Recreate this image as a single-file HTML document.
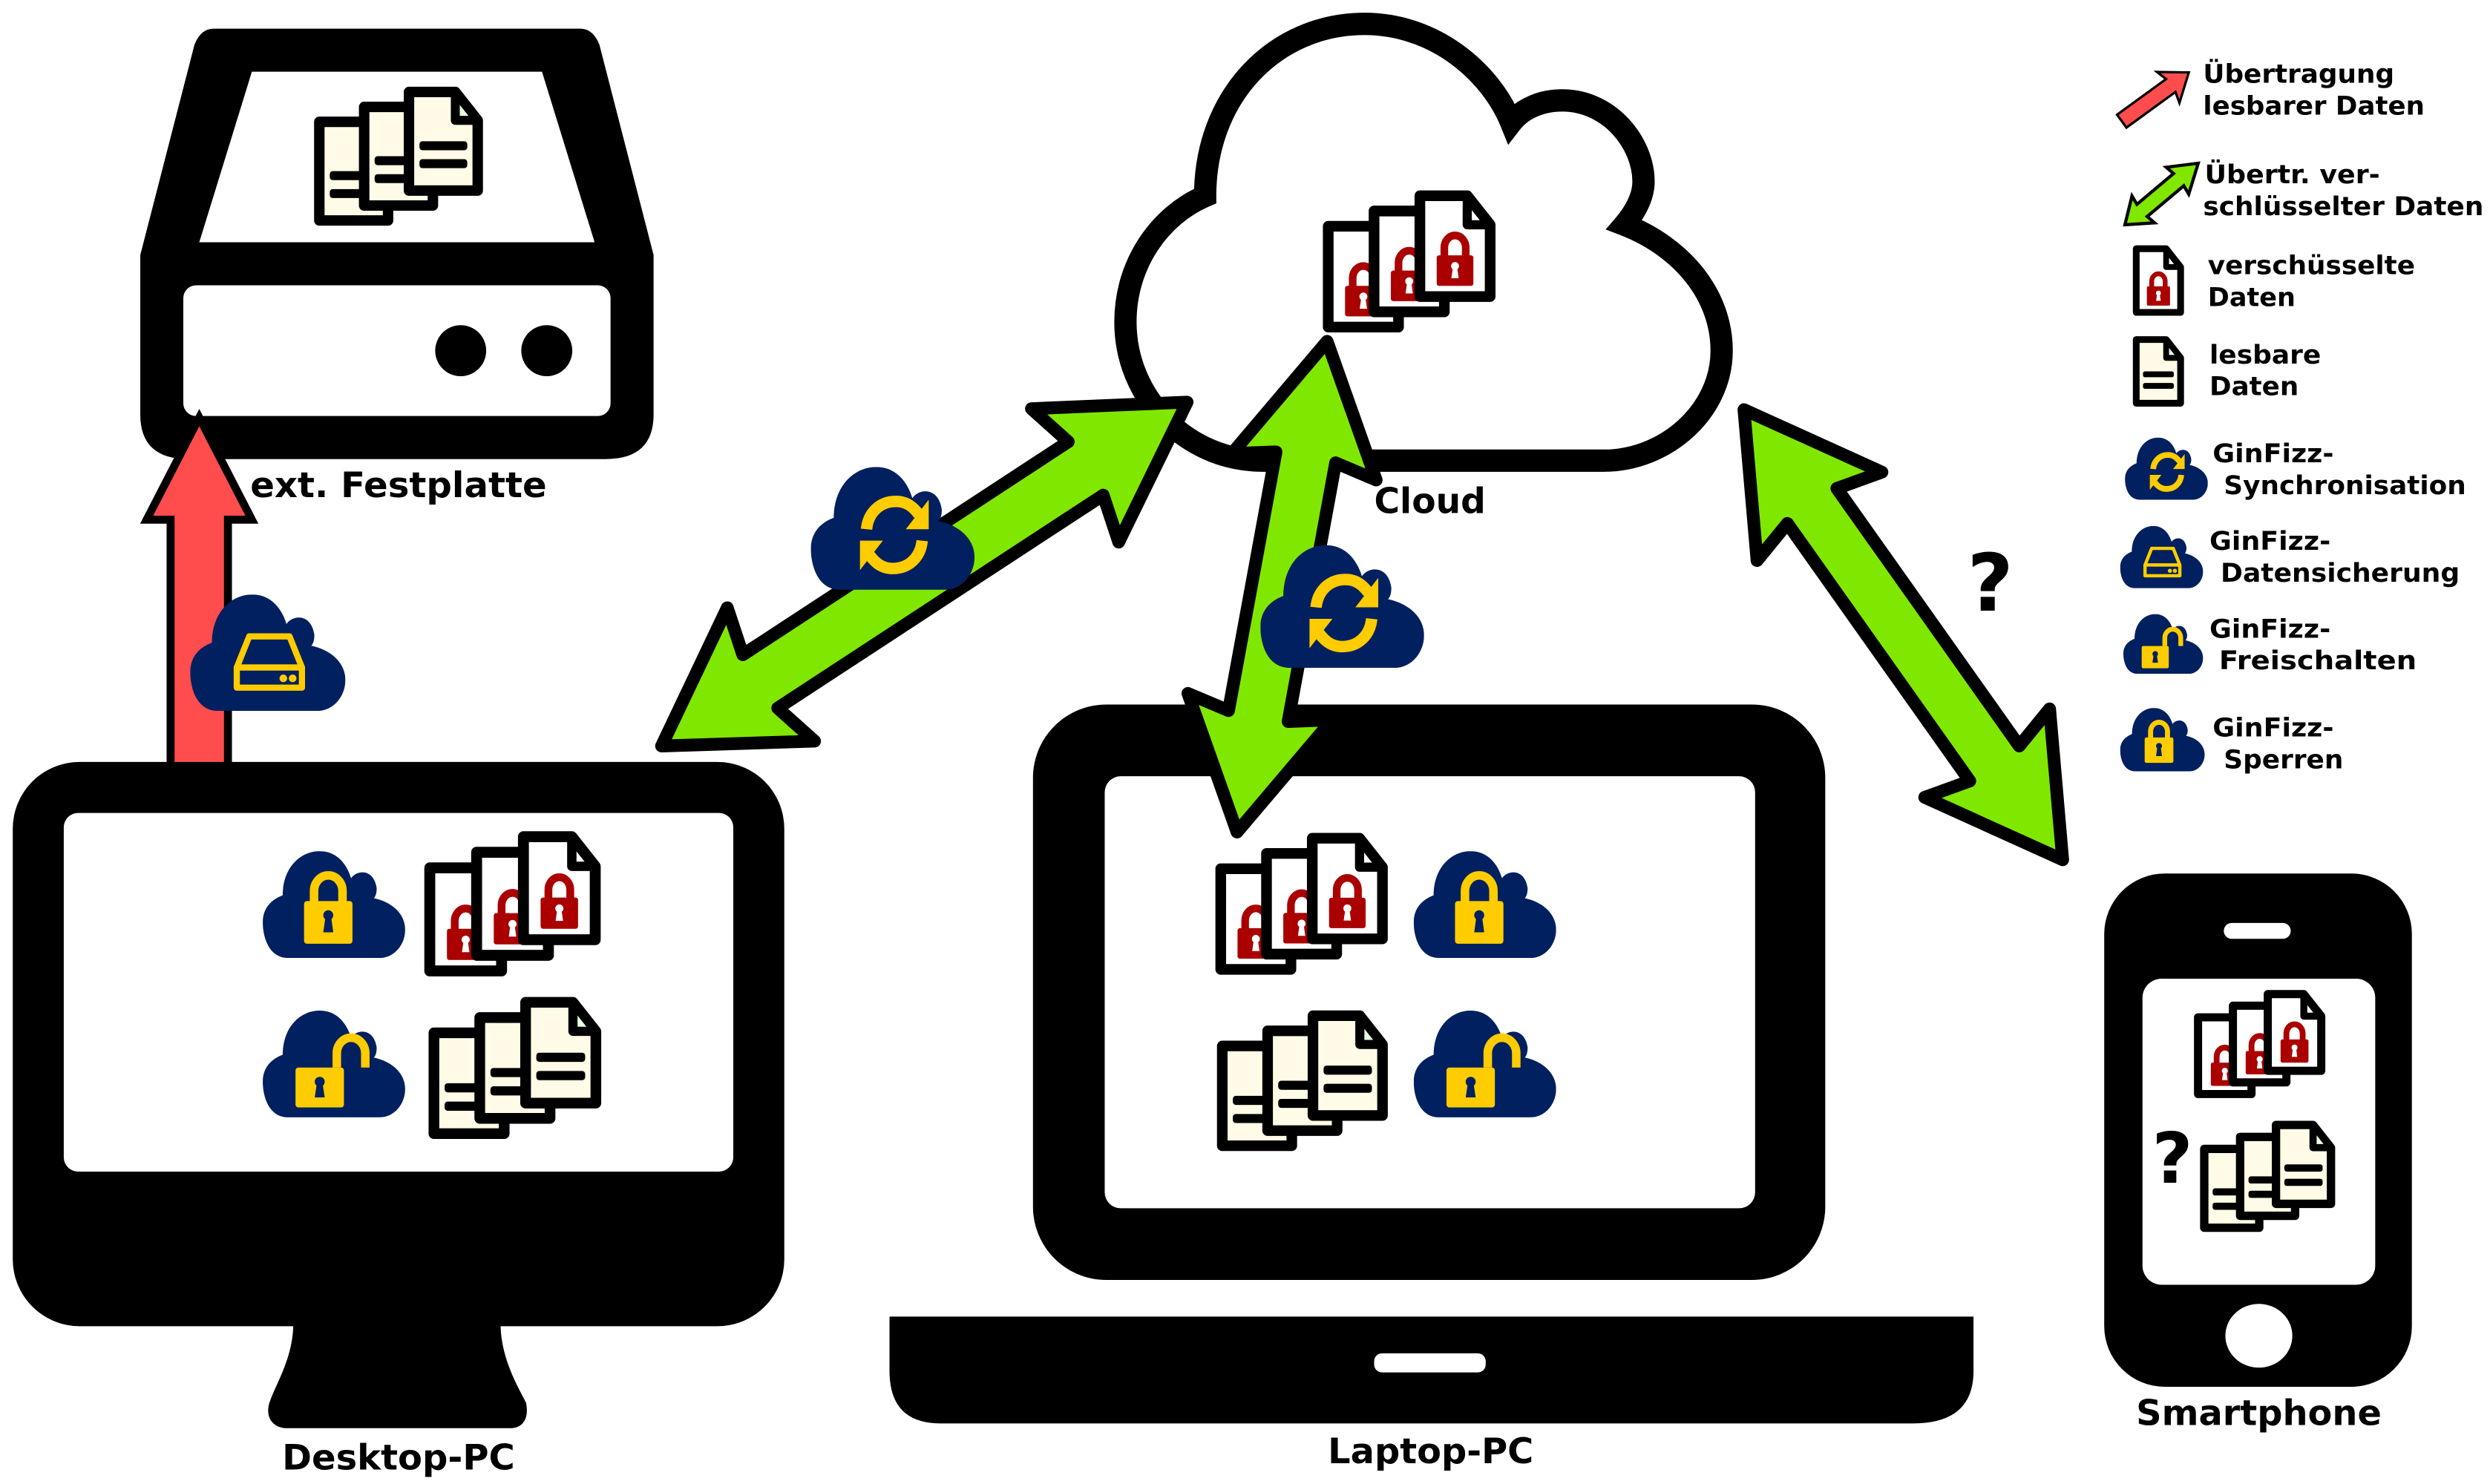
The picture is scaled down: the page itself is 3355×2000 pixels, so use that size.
<!DOCTYPE html>
<html><head><meta charset="utf-8"><style>
html,body{margin:0;padding:0;background:#fff;}
svg{display:block;}
text{font-family:"DejaVu Sans","Liberation Sans",sans-serif;font-weight:bold;fill:#000;}
</style></head><body>
<svg width="3355" height="2000" viewBox="0 0 1562 931" preserveAspectRatio="none" xmlns="http://www.w3.org/2000/svg">
<defs>
  <symbol id="cl" viewBox="0 0 100 75">
    <path d="M18,75 C3,75 0,58 0,50 C0,40 6,34 14,31 C14,12 26,0 40,0 C52,0 59,9 62,19 C66,13 78,12 80,26 C80,30 79,32 78,33 C92,36 100,45 100,55 C100,66 92,75 82,75 Z" fill="#012060"/>
  </symbol>
  <symbol id="csync" viewBox="0 0 100 75">
    <use href="#cl" width="100" height="75"/>
    <path d="M34,38 C35,28 42,21 52,21 C59,21 63,25 66,29" fill="none" stroke="#ffcc00" stroke-width="7"/>
    <polygon points="72,20 72,38 58,38" fill="#ffcc00"/>
    <path d="M68,45 C67,55 60,62 50,62 C43,62 39,58 36,54" fill="none" stroke="#ffcc00" stroke-width="7"/>
    <polygon points="30,63 30,45 44,45" fill="#ffcc00"/>
  </symbol>
  <symbol id="cdrive" viewBox="0 0 100 75">
    <use href="#cl" width="100" height="75"/>
    <path d="M30,47 L38,27 H64 L72,47 V60 H30 Z M30,47 H72" fill="none" stroke="#ffcc00" stroke-width="4" stroke-linejoin="round"/>
    <circle cx="60" cy="54" r="2.5" fill="#ffcc00"/><circle cx="66" cy="54" r="2.5" fill="#ffcc00"/>
  </symbol>
  <symbol id="clock" viewBox="0 0 100 75">
    <use href="#cl" width="100" height="75"/>
    <path d="M36,36 V28 a10,11 0 0 1 20,0 V36" fill="none" stroke="#ffcc00" stroke-width="6"/>
    <rect x="29" y="35" width="34" height="30" rx="2" fill="#ffcc00"/>
    <circle cx="46" cy="45" r="3.5" fill="#012060"/><polygon points="44,46 48,46 49.5,57 42.5,57" fill="#012060"/>
  </symbol>
  <symbol id="copen" viewBox="0 0 100 75">
    <use href="#cl" width="100" height="75"/>
    <path d="M52,40 V30 a10,11 0 0 1 20,0 V40" fill="none" stroke="#ffcc00" stroke-width="6"/>
    <rect x="23" y="40" width="34" height="28" rx="2" fill="#ffcc00"/>
    <circle cx="40" cy="50" r="3.5" fill="#012060"/><polygon points="38,51 42,51 43.5,61 36.5,61" fill="#012060"/>
  </symbol>
  <symbol id="docE" viewBox="0 0 56 76">
    <path d="M5,5 H36 L51,24 V71 H5 Z" fill="#fff" stroke="#000" stroke-width="7" stroke-linejoin="round"/>
    <path d="M36,5 V24 H51" fill="none" stroke="#000" stroke-width="6" stroke-linejoin="round"/>
    <path d="M21,45 V39 a7,8 0 0 1 14,0 V45" fill="none" stroke="#aa0000" stroke-width="5"/>
    <rect x="16" y="44" width="24" height="20" rx="1.5" fill="#aa0000"/>
    <circle cx="28" cy="51" r="2.6" fill="#fff"/><polygon points="26.6,52 29.4,52 30.4,59 25.6,59" fill="#fff"/>
  </symbol>
  <symbol id="docT" viewBox="0 0 56 76">
    <path d="M5,5 H36 L51,24 V71 H5 Z" fill="#fffbe6" stroke="#000" stroke-width="7" stroke-linejoin="round"/>
    <path d="M36,5 V24 H51 Z" fill="#e6ffe6" stroke="#000" stroke-width="6" stroke-linejoin="round"/>
    <rect x="12" y="38" width="32" height="6" rx="2" fill="#000"/>
    <rect x="12" y="50" width="32" height="6" rx="2" fill="#000"/>
  </symbol>
  <symbol id="stE" viewBox="0 0 116 96">
    <use href="#docE" x="0" y="20" width="56" height="76"/>
    <use href="#docE" x="30" y="10" width="56" height="76"/>
    <use href="#docE" x="60" y="0" width="56" height="76"/>
  </symbol>
  <symbol id="stT" viewBox="0 0 116 96">
    <use href="#docT" x="0" y="20" width="56" height="76"/>
    <use href="#docT" x="30" y="10" width="56" height="76"/>
    <use href="#docT" x="60" y="0" width="56" height="76"/>
  </symbol>
</defs>

<!-- External drive -->
<path d="M134,18 H364 Q372,18 376,28 L410,160 V260 Q410,288 380,288 H118 Q88,288 88,260 V160 L122,28 Q126,18 134,18 Z" fill="#000"/>
<polygon points="158,45 340,45 373,152 125,152" fill="#fff"/>
<rect x="115" y="179" width="268" height="82" rx="8" fill="#fff"/>
<ellipse cx="289" cy="220" rx="16" ry="16" fill="#000"/>
<ellipse cx="343" cy="220" rx="16" ry="16" fill="#000"/>
<use href="#stT" x="194" y="53" width="112" height="90"/>
<text x="157" y="312" font-size="22" textLength="186" lengthAdjust="spacingAndGlyphs">ext. Festplatte</text>

<!-- red arrow -->
<polygon points="125,262 158,326 143,326 143,488 107,488 107,326 92,326" fill="#ff4d4d" stroke="#000" stroke-width="5" stroke-linejoin="miter"/>
<use href="#cdrive" x="118" y="373" width="100" height="73"/>

<!-- Desktop -->
<rect x="8" y="478" width="484" height="354" rx="42" fill="#000"/>
<rect x="40" y="510" width="420" height="225" rx="9" fill="#fff"/>
<path d="M184,830 H314 C314,852 325,870 330,880 C332,890 328,896 320,896 H180 C172,896 166,890 169,880 C173,868 184,852 184,830 Z" fill="#000"/>
<use href="#clock" x="163" y="534" width="93" height="67"/>
<use href="#stE" x="264" y="520" width="115" height="94"/>
<use href="#copen" x="163" y="634" width="93" height="67"/>
<use href="#stT" x="266" y="624" width="114" height="92"/>
<text x="177" y="922" font-size="22" textLength="146" lengthAdjust="spacingAndGlyphs">Desktop-PC</text>

<!-- Cloud -->
<path d="M792,289 C745,289 706,250 706,202 C706,165 728,135 756,123 C756,60 800,15 856,15 C900,15 935,45 948,77 C955,68 967,63 980,63 C1010,63 1031,90 1031,114 C1031,124 1025,134 1019,141 C1055,155 1080,185 1080,220 C1080,258 1045,289 1006,289 Z" fill="#fff" stroke="#000" stroke-width="14" stroke-linejoin="miter"/>
<use href="#stE" x="828" y="118" width="112" height="92"/>
<text x="862" y="322" font-size="22" textLength="70" lengthAdjust="spacingAndGlyphs">Cloud</text>

<!-- Laptop -->
<rect x="648" y="442" width="497" height="361" rx="46" fill="#000"/>
<rect x="693" y="487" width="408" height="271" rx="10" fill="#fff"/>
<path d="M558,826 H1238 V860 Q1238,893 1200,893 H590 Q558,893 558,860 Z" fill="#000"/>
<rect x="862" y="849" width="70" height="12" rx="5" fill="#fff"/>
<use href="#stE" x="761" y="520" width="111" height="94"/>
<use href="#clock" x="885" y="534" width="93" height="67"/>
<use href="#stT" x="762" y="632" width="110" height="92"/>
<use href="#copen" x="885" y="634" width="93" height="67"/>
<text x="833" y="918" font-size="22" textLength="129" lengthAdjust="spacingAndGlyphs">Laptop-PC</text>

<!-- Smartphone -->
<rect x="1320" y="548" width="193" height="322" rx="38" fill="#000"/>
<rect x="1344" y="614" width="146" height="192" rx="12" fill="#fff"/>
<rect x="1395" y="579" width="42" height="10" rx="5" fill="#fff"/>
<ellipse cx="1417" cy="838" rx="21" ry="20" fill="#fff"/>
<use href="#stE" x="1371" y="620" width="93" height="70" preserveAspectRatio="none"/>
<use href="#stT" x="1376" y="702" width="93" height="72" preserveAspectRatio="none"/>
<text x="1350" y="742" font-size="44">?</text>
<text x="1340" y="894" font-size="22" textLength="154" lengthAdjust="spacingAndGlyphs">Smartphone</text>

<!-- green arrows -->
<g fill="#80e800" stroke="#000" stroke-width="8" stroke-linejoin="round">
  <polygon transform="translate(415,468) rotate(-33.2)" points="0,0 82,-50 74,-20 318,-20 310,-50 394,0 310,50 318,20 74,20 82,50"/>
  <polygon transform="translate(776,522) rotate(-79.6)" points="0,0 80,-46 74,-19 239,-19 233,-46 313,0 233,46 239,19 74,19 80,46"/>
  <polygon transform="translate(1094,257) rotate(54.7)" points="0,0 82,-48 74,-19 272,-19 264,-48 346,0 264,48 272,19 74,19 82,48"/>
</g>
<use href="#csync" x="508" y="293" width="104" height="77"/>
<use href="#csync" x="790" y="342" width="104" height="77"/>
<text x="1234" y="383" font-size="50">?</text>

<!-- Legend -->
<polygon transform="translate(1331,76) rotate(-36)" points="0,-5 38,-5 36,-12 52,0 36,12 38,5 0,5" fill="#ff4d4d" stroke="#000" stroke-width="1.5"/>
<text x="1382" y="52" font-size="16" textLength="120" lengthAdjust="spacingAndGlyphs">Übertragung</text>
<text x="1382" y="72" font-size="16" textLength="139" lengthAdjust="spacingAndGlyphs">lesbarer Daten</text>
<polygon transform="translate(1333,141) rotate(-40)" points="0,0 15,-11 14,-5 44,-5 43,-11 60,0 43,11 44,5 14,5 15,11" fill="#80e800" stroke="#000" stroke-width="2"/>
<text x="1383" y="115" font-size="16" textLength="110" lengthAdjust="spacingAndGlyphs">Übertr. ver-</text>
<text x="1382" y="135" font-size="16" textLength="176" lengthAdjust="spacingAndGlyphs">schlüsselter Daten</text>
<use href="#docE" x="1334" y="153" width="40" height="46" preserveAspectRatio="none"/>
<text x="1385" y="172" font-size="16" textLength="130" lengthAdjust="spacingAndGlyphs">verschüsselte</text>
<text x="1385" y="192" font-size="16" textLength="55" lengthAdjust="spacingAndGlyphs">Daten</text>
<use href="#docT" x="1333" y="210" width="42" height="46" preserveAspectRatio="none"/>
<text x="1386" y="228" font-size="16" textLength="70" lengthAdjust="spacingAndGlyphs">lesbare</text>
<text x="1386" y="248" font-size="16" textLength="56" lengthAdjust="spacingAndGlyphs">Daten</text>
<use href="#csync" x="1333" y="274" width="52" height="40" preserveAspectRatio="none"/>
<text x="1388" y="290" font-size="16" textLength="76" lengthAdjust="spacingAndGlyphs">GinFizz-</text>
<text x="1395" y="310" font-size="16" textLength="152" lengthAdjust="spacingAndGlyphs">Synchronisation</text>
<use href="#cdrive" x="1330" y="329" width="52" height="41" preserveAspectRatio="none"/>
<text x="1386" y="345" font-size="16" textLength="76" lengthAdjust="spacingAndGlyphs">GinFizz-</text>
<text x="1393" y="365" font-size="16" textLength="150" lengthAdjust="spacingAndGlyphs">Datensicherung</text>
<use href="#copen" x="1332" y="384" width="50" height="40" preserveAspectRatio="none"/>
<text x="1386" y="400" font-size="16" textLength="76" lengthAdjust="spacingAndGlyphs">GinFizz-</text>
<text x="1392" y="420" font-size="16" textLength="124" lengthAdjust="spacingAndGlyphs">Freischalten</text>
<use href="#clock" x="1330" y="443" width="53" height="42" preserveAspectRatio="none"/>
<text x="1388" y="462" font-size="16" textLength="76" lengthAdjust="spacingAndGlyphs">GinFizz-</text>
<text x="1395" y="482" font-size="16" textLength="75" lengthAdjust="spacingAndGlyphs">Sperren</text>
</svg>
</body></html>
